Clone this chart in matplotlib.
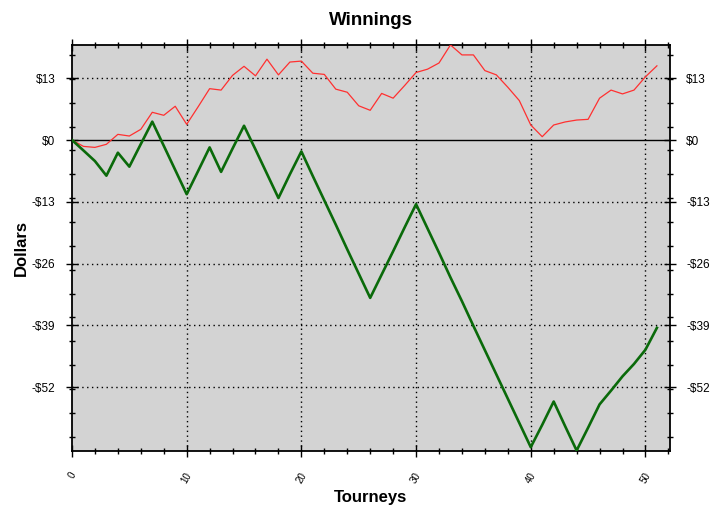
import numpy as np
import matplotlib.pyplot as plt
from matplotlib.ticker import FixedLocator, FuncFormatter, MultipleLocator

plt.rcParams['font.family'] = ['Liberation Sans', 'DejaVu Sans']

# Cumulative winnings per tourney
tourneys = np.arange(52)
red_line = [0, -1.34, -1.55, -0.9, 1.19, 0.84, 2.25, 5.83, 5.2, 7.1,
            3.3, 7.0, 10.8, 10.5, 13.6, 15.5, 13.5, 17.0, 13.7, 16.4,
            16.6, 14.05, 13.8, 10.7, 10.05, 7.2, 6.25, 9.8, 8.8, 11.45,
            14.2, 14.9, 16.2, 20.0, 17.9, 17.9, 14.6, 13.7, 11.1, 8.3,
            3.16, 0.7, 3.16, 3.8, 4.2, 4.35, 8.8, 10.5, 9.7, 10.5,
            13.3, 15.6]
green_line = [0, -2.2, -4.43, -7.5, -2.67, -5.6, -0.85, 3.86, -1.2, -6.3,
              -11.4, -6.5, -1.55, -6.7, -1.8, 3.0, -2.0, -7.1, -12.2, -7.2,
              -2.4, -7.6, -12.7, -17.8, -23.0, -28.1, -33.2, -28.3, -23.4, -18.4,
              -13.5, -18.6, -23.7, -28.9, -33.9, -39.1, -44.2, -49.3, -54.4, -59.5,
              -64.6, -59.9, -55.0, -60.2, -65.3, -60.5, -55.6, -52.7, -49.7, -47.1,
              -44.1, -39.5]

y_major = [13, 0, -13, -26, -39, -52]
x_major = [0, 10, 20, 30, 40, 50]

fig = plt.figure(figsize=(7.1, 5.14), dpi=100)
ax = fig.add_axes([0.1014, 0.1226, 0.8416, 0.79])
ax.set_facecolor('#d3d3d3')

# Grid (dotted) and zero line
for yv in y_major:
    if yv == 0:
        ax.axhline(0, color='black', lw=1.0, zorder=1)
    else:
        ax.axhline(yv, color='black', lw=1.0, ls=(0, (1, 2.5)), zorder=1)
for xv in x_major[1:]:
    ax.axvline(xv, color='black', lw=1.0, ls=(0, (1, 2.5)), zorder=1)

ax.plot(tourneys, red_line, color='#ff3030', lw=0.9, zorder=3)
ax.plot(tourneys, green_line, color='#0a6a0a', lw=1.9, zorder=3)

ax.set_xlim(0, 52.1)
ax.set_ylim(-65.4, 20.0)

ax.yaxis.set_major_locator(FixedLocator(y_major))
ax.yaxis.set_major_formatter(FuncFormatter(
    lambda v, p: f"${v:.0f}" if v >= 0 else f"-${-v:.0f}"))
ax.yaxis.set_minor_locator(FixedLocator(np.arange(17.9, -65, -5.02)))
ax.xaxis.set_major_locator(FixedLocator(x_major))
ax.xaxis.set_minor_locator(MultipleLocator(2))

ax.tick_params(axis='both', which='both', direction='inout', color='black',
               top=True, right=True, labelright=True)
ax.tick_params(axis='both', which='major', length=8, width=1)
ax.tick_params(axis='both', which='minor', length=5, width=1)
ax.tick_params(axis='y', which='major', labelsize=8.5, pad=8)
ax.tick_params(axis='x', which='major', labelsize=7, pad=10, labelrotation=60)

for s in ax.spines.values():
    s.set_linewidth(1.3)

ax.set_title('Winnings', fontsize=13.5, fontweight='bold', pad=14)
ax.set_xlabel('Tourneys', fontsize=12, fontweight='bold', labelpad=4)
ax.set_ylabel('Dollars', fontsize=12, fontweight='bold', labelpad=2)

fig.savefig('out.png', dpi=100)
